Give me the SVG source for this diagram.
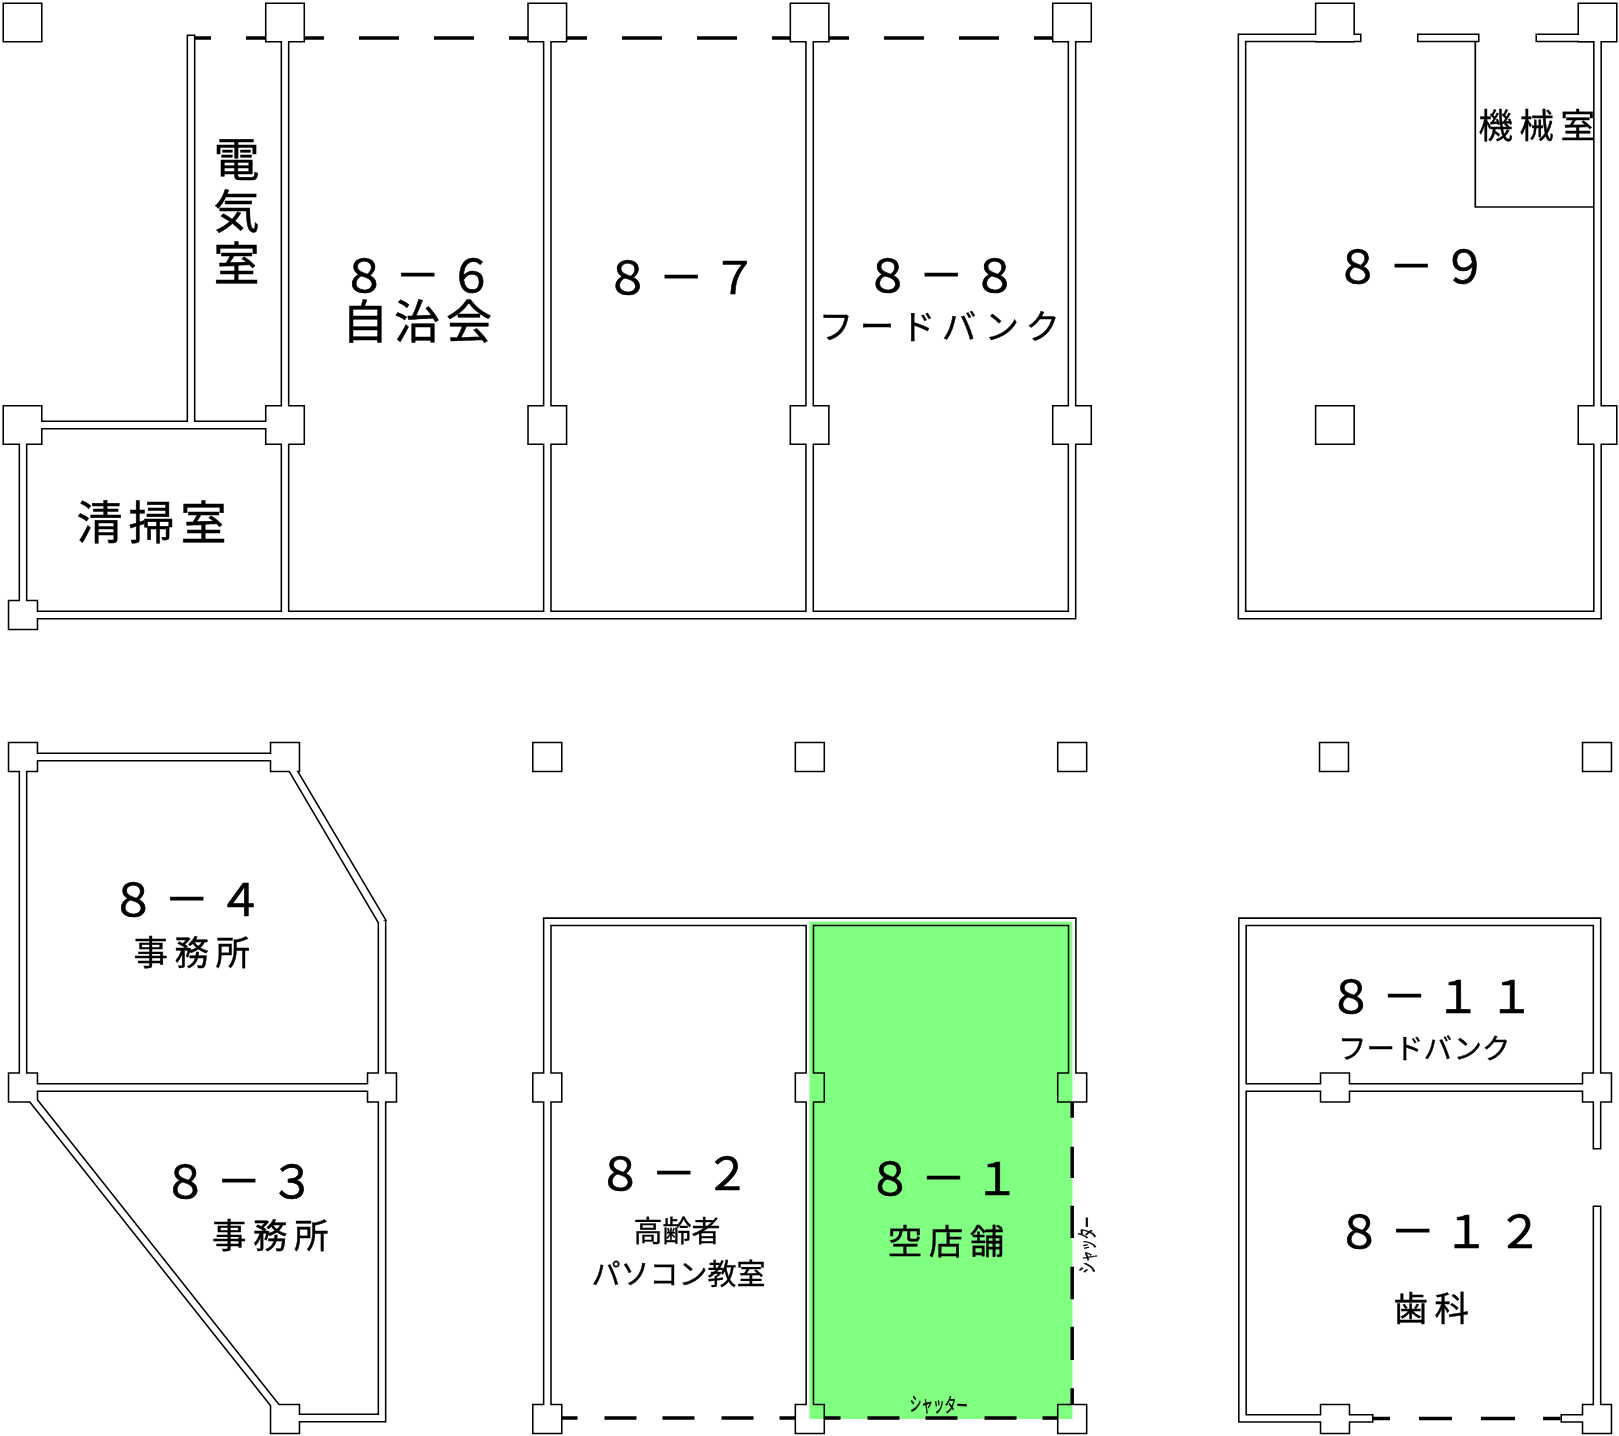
<svg xmlns="http://www.w3.org/2000/svg" xmlns:xlink="http://www.w3.org/1999/xlink" width="1619" height="1436" viewBox="0 0 1619 1436">
<style>
text{font-family:"Noto Sans CJK JP","Noto Sans",sans-serif;fill:#000;stroke:#000;text-anchor:middle}
.n{font-size:45px;letter-spacing:8.5px;stroke-width:.7}
.k46{font-size:46px;letter-spacing:6px;stroke-width:.5}
.v{writing-mode:vertical-rl;letter-spacing:6px}
.k34{font-size:34.5px;letter-spacing:6.5px;stroke-width:.4}
.k29{font-size:29px;stroke-width:.35}
.k28{font-size:28.5px;stroke-width:.35}
.s{font-size:20px;stroke-width:.5}
.dash{fill:none;stroke:#000;stroke-width:3.5}
.line{fill:none;stroke:#000;stroke-width:1.7}
#ink use{stroke:#000;stroke-width:3.1;fill:#fff}
#mask use{stroke:none;fill:#fff}
</style>
<defs>
<path id="walls" d="
M188.1 36H193.9V425H188.1z
M282.1 22H287.9V615H282.1z
M544.4 22H550.2V615H544.4z
M806.7 22H812.5V615H806.7z
M1069.1 22H1074.9V617.9H1069.1z
M23 422.1H285V427.9H23z
M20.1 612.1H1074.9V617.9H20.1z
M20.1 425H25.9V615H20.1z
M1239.1 35H1360V40.8H1239.1z
M1418.5 35H1478V40.8H1418.5z
M1537 35H1597V40.8H1537z
M1239.1 35H1244.9V617.9H1239.1z
M1594.6 22H1600.4V617.9H1594.6z
M1239.1 612.1H1600.4V617.9H1239.1z
M23 754.1H285V759.9H23z
M20.1 757H25.9V1087.5H20.1z
M23 1084.6H382V1090.4H23z
M379.1 921H384.9V1420.9H379.1z
M285 1415.1H384.9V1420.9H285z
M287.5 755.5L384.9 920L379.1 922.5L282.5 758.5z
M25.3 1085.7L287.3 1416.2L282.7 1419.8L20.7 1089.3z
M544.4 918.9H1075.1V924.7H544.4z
M544.4 921.8H550.2V1419H544.4z
M806.9 921.8H812.7V1419H806.9z
M1069.3 921.8H1075.1V1087.5H1069.3z
M1239.6 918.9H1599.9V924.7H1239.6z
M1239.6 918.9H1245.4V1421.3H1239.6z
M1594.1 918.9H1599.9V1148H1594.1z
M1594.1 1207H1599.9V1419H1594.1z
M1242.5 1084.6H1597V1090.4H1242.5z
M1239.6 1415.5H1372V1421.3H1239.6z
M1562 1415.5H1597V1421.3H1562z"/>
<path id="pillars" d="
M4 4H41V41H4z
M266.5 4H303.5V41H266.5z
M528.8 4H565.8V41H528.8z
M791.1 4H828.1V41H791.1z
M1053.5 4H1090.5V41H1053.5z
M1316.4 4H1353.4V41H1316.4z
M1579 4H1616V41H1579z
M4 406.5H41V443.5H4z
M266.5 406.5H303.5V443.5H266.5z
M528.8 406.5H565.8V443.5H528.8z
M791.1 406.5H828.1V443.5H791.1z
M1053.5 406.5H1090.5V443.5H1053.5z
M1316.4 406.5H1353.4V443.5H1316.4z
M1579 406.5H1616V443.5H1579z
M9.3 601.3H36.7V628.7H9.3z
M9.3 743.3H36.7V770.7H9.3z
M271.3 743.3H298.7V770.7H271.3z
M533.6 743.3H561V770.7H533.6z
M796.1 743.3H823.5V770.7H796.1z
M1058.5 743.3H1085.9V770.7H1058.5z
M1320.3 743.3H1347.7V770.7H1320.3z
M1583.3 743.3H1610.7V770.7H1583.3z
M9.3 1073.8H36.7V1101.2H9.3z
M368.3 1073.8H395.7V1101.2H368.3z
M533.6 1073.8H561V1101.2H533.6z
M796.1 1073.8H823.5V1101.2H796.1z
M1058.5 1073.8H1085.9V1101.2H1058.5z
M1321.3 1073.8H1348.7V1101.2H1321.3z
M1583.3 1073.8H1610.7V1101.2H1583.3z
M271.3 1405.3H298.7V1432.7H271.3z
M533.6 1405.3H561V1432.7H533.6z
M796.1 1405.3H823.5V1432.7H796.1z
M1058.5 1405.3H1085.9V1432.7H1058.5z
M1321.3 1405.3H1348.7V1432.7H1321.3z
M1583.3 1405.3H1610.7V1432.7H1583.3z"/>
</defs>
<rect width="1619" height="1436" fill="#fff"/>
<g id="shutters">
<path class="dash" d="M189 38H266" stroke-dasharray="22 35 20"/>
<path class="dash" d="M304 38H529M567 38H792M829 38H1054" stroke-dasharray="20 35 40 35 40 35 20"/>
<path class="dash" d="M561 1418H795.5M824 1418H1058.5" stroke-dasharray="16.5 27 32 26 32 27 32 26 16.5"/>
<path class="dash" d="M1072.2 1101.7V1406" stroke-dasharray="16 29 31.3 27.7 32.3 28.7 32.6 27.4 33.3 28.3 20"/>
<path class="dash" d="M1373 1418.5H1390M1419 1418.5H1452M1481 1418.5H1515M1543 1418.5H1560.5"/>
</g>
<g id="ink"><use xlink:href="#walls" href="#walls"/><use xlink:href="#pillars" href="#pillars"/></g>
<g id="mask"><use xlink:href="#walls" href="#walls"/><use xlink:href="#pillars" href="#pillars"/></g>
<rect id="vacant-8-1" x="809.4" y="921.7" width="263" height="497.3" fill="#80ff80" style="mix-blend-mode:multiply"/>
<path id="machine-room" class="line" d="M1475.3 42V207H1594"/>
<g id="room-electric"><text class="k46 v" x="236.5" y="214">電気室</text></g>
<g id="room-cleaning"><text class="k46" x="154.5" y="539">清掃室</text></g>
<g id="room-8-6"><text class="n" x="422" y="291.5">８－６</text><text class="k46" x="420" y="338">自治会</text></g>
<g id="room-8-7"><text class="n" x="685.5" y="294.3">８－７</text></g>
<g id="room-8-8"><text class="n" x="945.6" y="291.5">８－８</text><text class="k34" x="942.6" y="339">フードバンク</text></g>
<g id="room-8-9"><text class="n" x="1415.5" y="283">８－９</text></g>
<g id="room-machine"><text class="k34" x="1540" y="138">機械室</text></g>
<g id="room-8-4"><text class="n" x="191" y="916">８－４</text><text class="k34" x="195" y="965">事務所</text></g>
<g id="room-8-3"><text class="n" x="243" y="1197.5">８－３</text><text class="k34" x="273.5" y="1248">事務所</text></g>
<g id="room-8-2"><text class="n" x="678" y="1189.5">８－２</text><text class="k29" x="677" y="1242">高齢者</text><text class="k29" x="678.5" y="1285">パソコン教室</text></g>
<g id="room-8-1"><text class="n" x="947.7" y="1194.5">８－１</text><text class="k34" x="949.3" y="1254">空店舗</text><text class="s" transform="translate(938.5 1412) rotate(2)" textLength="58" lengthAdjust="spacingAndGlyphs">シャッター</text><text class="s" transform="translate(1095 1245) rotate(-90)" textLength="57" lengthAdjust="spacingAndGlyphs">シャッター</text></g>
<g id="room-8-11"><text class="n" x="1435.5" y="1013">８－１１</text><text class="k28" x="1424.3" y="1059">フードバンク</text></g>
<g id="room-8-12"><text class="n" x="1443.8" y="1247.5">８－１２</text><text class="k34" x="1434.5" y="1321">歯科</text></g>
</svg>
